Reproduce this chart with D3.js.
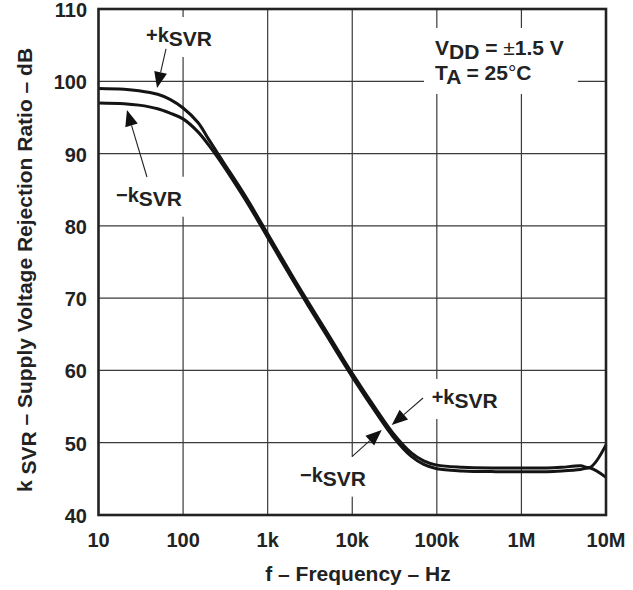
<!DOCTYPE html>
<html><head><meta charset="utf-8">
<script src="https://cdn.jsdelivr.net/npm/d3@7"></script>
<style>
html,body{margin:0;padding:0;background:#fff;}
svg{display:block;font-family:"Liberation Sans",Arial,Helvetica,sans-serif;font-weight:bold;}
</style></head><body>
<svg id="chart" width="633" height="590"></svg>
<script>
// ---- data ----
const freq   = [10, 20, 30, 50, 70, 100, 150, 200, 300, 500, 700, 1000, 2000, 3000, 5000, 7000, 10000, 20000, 30000, 50000, 70000, 100000, 200000, 500000, 1000000, 2000000, 3000000, 5000000, 6500000, 10000000];
const kPlus  = [99.0, 98.9, 98.7, 98.2, 97.5, 96.3, 94.3, 92.0, 88.8, 84.8, 82.0, 78.9, 72.9, 69.5, 65.3, 62.5, 59.6, 54.3, 51.4, 48.6, 47.5, 46.9, 46.6, 46.5, 46.5, 46.5, 46.6, 46.8, 46.6, 49.7];
const kMinus = [97.0, 96.9, 96.7, 96.2, 95.6, 94.8, 93.0, 91.2, 88.3, 84.3, 81.5, 78.4, 72.4, 69.0, 64.8, 62.0, 59.1, 53.8, 50.9, 48.1, 47.0, 46.4, 46.1, 46.0, 46.0, 46.0, 46.1, 46.3, 46.5, 45.2];
const xTicks = [10, 100, 1000, 10000, 100000, 1000000, 10000000];
const xTickLabels = ["10", "100", "1k", "10k", "100k", "1M", "10M"];
const yTicks = [40, 50, 60, 70, 80, 90, 100, 110];
const labelSigns = ["+", "\u2212", "+", "\u2212"];
const labelFreq  = [36.4, 16.1, 86900, 2410];
const labelDb    = [105.43, 83.34, 55.36, 44.61];
const arrowFromF = [62.8, 37.4, 68700, 9930];
const arrowFromDb= [104.47, 86.76, 56.19, 48.07];
const arrowToF   = [49.2, 21.7, 29300, 22300];
const arrowToDb  = [99.07, 96.03, 52.45, 51.76];
const condFreq = 95100;
const condDb = [103.64, 100.18];

// ---- layout ----
const svg = d3.select("#chart");
const L = 98.5, R = 606, T = 9, B = 515;
const x = d3.scaleLog().domain([10, 1e7]).range([L, R]);
const y = d3.scaleLinear().domain([40, 110]).range([B, T]);

const gGrid = svg.append("g");
const gBox = svg.append("g");
const gCurves = svg.append("g");
const gAnn = svg.append("g");

// grid
gGrid.selectAll("line.v").data(xTicks.slice(1, -1)).join("line")
  .attr("x1", d => x(d)).attr("x2", d => x(d)).attr("y1", T).attr("y2", B)
  .attr("stroke", "#3a3a3a").attr("stroke-width", 1.2);
gGrid.selectAll("line.h").data(yTicks.slice(1, -1)).join("line")
  .attr("y1", d => y(d)).attr("y2", d => y(d)).attr("x1", L).attr("x2", R)
  .attr("stroke", "#3a3a3a").attr("stroke-width", 1.2);

// tick labels
svg.append("g").selectAll("text").data(yTicks).join("text")
  .attr("x", 87).attr("y", d => y(d) + 8).attr("text-anchor", "end")
  .attr("font-size", 20).attr("fill", "#222").text(d => d);
svg.append("g").selectAll("text").data(xTicks).join("text")
  .attr("x", d => x(d)).attr("y", 547).attr("text-anchor", "middle")
  .attr("font-size", 20).attr("fill", "#222").text((d, i) => xTickLabels[i]);

// axis titles
svg.append("text").attr("x", 358).attr("y", 581).attr("text-anchor", "middle")
  .attr("font-size", 21).attr("fill", "#222").text("f \u2013 Frequency \u2013 Hz");
const yt = svg.append("text").attr("transform", "translate(32,270) rotate(-90)")
  .attr("text-anchor", "middle").attr("font-size", 21).attr("fill", "#222");
yt.append("tspan").text("k ");
yt.append("tspan").attr("dy", 4).text("SVR");
yt.append("tspan").attr("dy", -4).text(" \u2013 Supply Voltage Rejection Ratio \u2013 dB");

// curves
const line = d3.line().x((d, i) => x(freq[i])).y(d => y(d)).curve(d3.curveCatmullRom.alpha(0.5));
[kPlus, kMinus].forEach(s => {
  gCurves.append("path").attr("d", line(s)).attr("fill", "none")
    .attr("stroke", "#141414").attr("stroke-width", 3).attr("stroke-linejoin", "round");
});

// labels with white boxes
function boxedText(node, pad) {
  const bb = node.getBBox();
  gBox.append("rect").attr("x", bb.x - pad).attr("y", bb.y - pad)
    .attr("width", bb.width + 2 * pad).attr("height", bb.height + 2 * pad).attr("fill", "#fff");
}
labelSigns.forEach((s, i) => {
  const t = gAnn.append("text").attr("x", x(labelFreq[i])).attr("y", y(labelDb[i]))
    .attr("font-size", 20).attr("fill", "#222");
  t.append("tspan").text(s + "k");
  t.append("tspan").attr("dy", 4).attr("font-size", 21).text("SVR");
  boxedText(t.node(), 7);
});
const c1 = gAnn.append("text").attr("x", x(condFreq)).attr("y", y(condDb[0])).attr("font-size", 21).attr("fill", "#222");
c1.append("tspan").text("V");
c1.append("tspan").attr("dy", 4).text("DD");
c1.append("tspan").attr("dy", -4).text(" = ");
c1.append("tspan").attr("font-weight", "normal").text("\u00b1");
c1.append("tspan").text("1.5 V");
const c2 = gAnn.append("text").attr("x", x(condFreq)).attr("y", y(condDb[1])).attr("font-size", 21).attr("fill", "#222");
c2.append("tspan").text("T");
c2.append("tspan").attr("dy", 4).text("A");
c2.append("tspan").attr("dy", -4).text(" = 25");
c2.append("tspan").attr("font-weight", "normal").text("\u00b0");
c2.append("tspan").text("C");
{
  const b1 = c1.node().getBBox(), b2 = c2.node().getBBox();
  const x0 = Math.min(b1.x, b2.x) - 11, x1 = Math.max(b1.x + b1.width, b2.x + b2.width) + 14;
  gBox.append("rect").attr("x", x0).attr("y", b1.y - 8).attr("width", x1 - x0)
    .attr("height", b2.y + b2.height - b1.y + 14).attr("fill", "#fff");
}

// arrows
arrowFromF.forEach((f, i) => {
  const x0 = x(f), y0 = y(arrowFromDb[i]), x1 = x(arrowToF[i]), y1 = y(arrowToDb[i]);
  const dx = x1 - x0, dy = y1 - y0, len = Math.hypot(dx, dy);
  const ux = dx / len, uy = dy / len, hl = 16, hw = 6.5;
  const bx = x1 - ux * hl, by = y1 - uy * hl;
  gAnn.append("line").attr("x1", x0).attr("y1", y0).attr("x2", bx).attr("y2", by)
    .attr("stroke", "#222").attr("stroke-width", 1.1);
  gAnn.append("path").attr("d", `M${x1},${y1}L${bx - uy * hw},${by + ux * hw}L${bx + uy * hw},${by - ux * hw}Z`)
    .attr("fill", "#111");
});

// frame
svg.append("rect").attr("x", L).attr("y", T).attr("width", R - L).attr("height", B - T)
  .attr("fill", "none").attr("stroke", "#222").attr("stroke-width", 2.6);
</script>
</body></html>
